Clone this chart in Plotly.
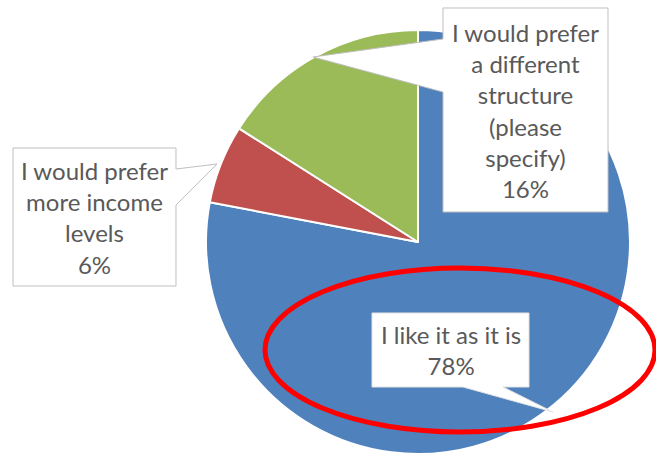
import plotly.graph_objects as go

W, H = 656, 455

labels = ["I like it as it is", "I would prefer more income levels",
          "I would prefer a different structure (please specify)"]
values = [78, 6, 16]
colors = ["#4F81BD", "#C0504D", "#9BBB59"]
# callout text, wrapped the way the original chart shows it
callout_lines = [
    ["I like it as it is"],
    ["I would prefer", "more income", "levels"],
    ["I would prefer", "a different", "structure", "(please", "specify)"],
]


def px_path(points):
    # pixel coords (origin top-left) -> paper-coords svg path
    parts = []
    for i, (x, y) in enumerate(points):
        parts.append(("M" if i == 0 else "L") + f"{x / W:.5f},{1 - y / H:.5f}")
    return " ".join(parts) + " Z"


# callout boxes with their pointer wedge, in pixels
callout_shapes = [
    [(372, 313), (529, 313), (529, 387), (503, 387), (553, 412), (463, 387), (372, 387)],
    [(13, 148), (176, 148), (176, 169), (217, 164), (176, 205), (176, 286), (13, 286)],
    [(443, 8), (608, 8), (608, 212), (443, 212), (443, 92), (313, 57), (443, 39)],
]
callout_centers = [(450.5, 350), (94.5, 217), (525.5, 110)]
callout_borders = ["#E3E3E3", "#BFBFBF", "#BFBFBF"]

fig = go.Figure(go.Pie(
    labels=labels,
    values=values,
    sort=False,
    direction="clockwise",
    rotation=0,
    marker=dict(colors=colors, line=dict(color="white", width=2)),
    textinfo="none",
    hoverinfo="label+percent",
    domain=dict(x=[206 / W, 630 / W], y=[1 - 454 / H, 1 - 30 / H]),
))

shapes = []
for pts, border in zip(callout_shapes, callout_borders):
    shapes.append(dict(type="path", xref="paper", yref="paper", path=px_path(pts),
                       fillcolor="white", line=dict(color=border, width=1), layer="above"))

# red ellipse drawn around the main slice label
shapes.append(dict(type="circle", xref="paper", yref="paper",
                   x0=265 / W, x1=655 / W, y0=1 - 432 / H, y1=1 - 268 / H,
                   line=dict(color="#FF0000", width=5), layer="above"))

annotations = []
for lines, v, (cx, cy) in zip(callout_lines, values, callout_centers):
    annotations.append(dict(
        text="<br>".join(lines + [f"{v}%"]),
        x=cx / W, y=1 - cy / H, xref="paper", yref="paper",
        xanchor="center", yanchor="middle", showarrow=False, align="center",
        font=dict(family="Lato", size=24, color="#595959"),
    ))

fig.update_layout(
    width=W, height=H,
    margin=dict(l=0, r=0, t=0, b=0),
    paper_bgcolor="white",
    showlegend=False,
    shapes=shapes,
    annotations=annotations,
)

# drop the page's default body margin so the figure fills the window exactly
fig.write_html("out.html", config={"displayModeBar": False},
               post_script="document.body.style.margin='0';")
